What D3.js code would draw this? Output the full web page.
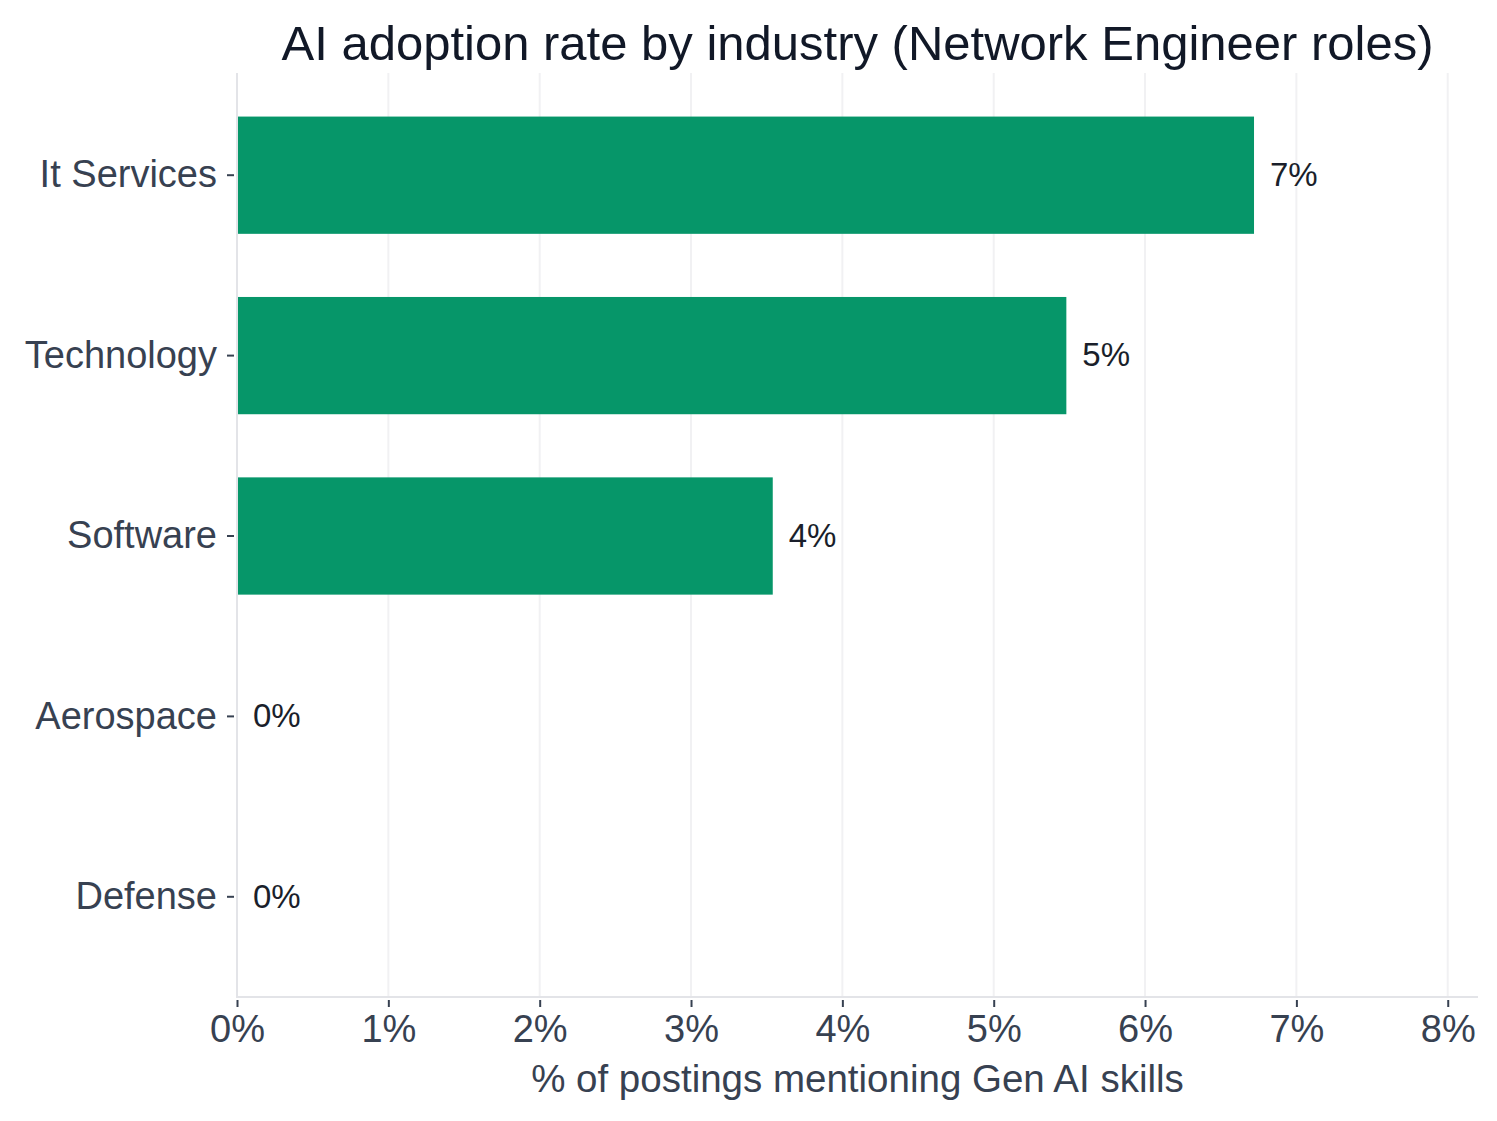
<!DOCTYPE html>
<html>
<head>
<meta charset="utf-8">
<script src="https://cdn.jsdelivr.net/npm/d3@7"></script>
<style>
  body { margin: 0; background: #fff; }
  svg { display: block; font-family: "Liberation Sans", Arial, Helvetica, sans-serif; }
</style>
</head>
<body>
<svg id="chart"></svg>
<script>
const industries = ["It Services", "Technology", "Software", "Aerospace", "Defense"];
const adoption = [6.72, 5.48, 3.54, 0, 0];
const xTicks = [0, 1, 2, 3, 4, 5, 6, 7, 8];

const width = 1497;
const height = 1121;
const margin = { top: 73, right: 19, bottom: 124, left: 237 };

const data = industries.map((name, i) => ({ name, value: adoption[i] }));

const svg = d3.select("#chart").attr("width", width).attr("height", height);

const x = d3
  .scaleLinear()
  .domain([0, 8.2])
  .range([margin.left, width - margin.right]);

const y = d3
  .scaleBand()
  .domain(industries)
  .range([margin.top + 12, height - margin.bottom - 10])
  .paddingInner(0.35)
  .paddingOuter(0.175);

// grid
svg
  .append("g")
  .selectAll("line")
  .data(xTicks.slice(1))
  .enter()
  .append("line")
  .attr("x1", (d) => x(d))
  .attr("x2", (d) => x(d))
  .attr("y1", margin.top)
  .attr("y2", height - margin.bottom)
  .attr("stroke", "#f1f1f3")
  .attr("stroke-width", 2);

// bars
svg
  .append("g")
  .selectAll("rect")
  .data(data)
  .enter()
  .append("rect")
  .attr("x", x(0))
  .attr("y", (d) => y(d.name))
  .attr("width", (d) => x(d.value) - x(0))
  .attr("height", y.bandwidth())
  .attr("fill", "#069669");

// spines
svg
  .append("line")
  .attr("x1", x(0))
  .attr("x2", x(0))
  .attr("y1", margin.top)
  .attr("y2", height - margin.bottom)
  .attr("stroke", "#e3e4e8")
  .attr("stroke-width", 2);

svg
  .append("line")
  .attr("x1", x(0) - 1)
  .attr("x2", width - margin.right)
  .attr("y1", height - margin.bottom)
  .attr("y2", height - margin.bottom)
  .attr("stroke", "#e3e4e8")
  .attr("stroke-width", 2);

// x axis
const xAxis = svg
  .append("g")
  .attr("transform", `translate(0, ${height - margin.bottom + 3})`)
  .call(
    d3
      .axisBottom(x)
      .tickValues(xTicks)
      .tickFormat((d) => d + "%")
      .tickSize(7)
      .tickPadding(8)
  );
xAxis.select(".domain").remove();
xAxis.selectAll(".tick line").attr("stroke", "#374151").attr("stroke-width", 2);
xAxis
  .selectAll(".tick text")
  .attr("fill", "#374151")
  .attr("font-size", 38)
  .attr("dy", "0.72em")
  .attr("font-family", "Liberation Sans, Arial, sans-serif");

// y axis
const yAxis = svg
  .append("g")
  .attr("transform", `translate(${x(0) - 3}, 0)`)
  .call(d3.axisLeft(y).tickSize(7).tickPadding(10));
yAxis.select(".domain").remove();
yAxis.selectAll(".tick line").attr("stroke", "#374151").attr("stroke-width", 2);
yAxis
  .selectAll(".tick text")
  .attr("fill", "#374151")
  .attr("font-size", 38)
  .attr("font-family", "Liberation Sans, Arial, sans-serif");

// value labels
svg
  .append("g")
  .selectAll("text")
  .data(data)
  .enter()
  .append("text")
  .attr("x", (d) => x(d.value) + 16)
  .attr("y", (d) => y(d.name) + y.bandwidth() / 2)
  .attr("dy", "0.33em")
  .attr("fill", "#1a1f2b")
  .attr("font-size", 33)
  .text((d) => Math.round(d.value) + "%");

// title
svg
  .append("text")
  .attr("x", (margin.left + width - margin.right) / 2)
  .attr("y", 60)
  .attr("text-anchor", "middle")
  .attr("fill", "#111827")
  .attr("font-size", 49)
  .text("AI adoption rate by industry (Network Engineer roles)");

// x label
svg
  .append("text")
  .attr("x", (margin.left + width - margin.right) / 2)
  .attr("y", 1092)
  .attr("text-anchor", "middle")
  .attr("fill", "#374151")
  .attr("font-size", 38.5)
  .text("% of postings mentioning Gen AI skills");
</script>
</body>
</html>
